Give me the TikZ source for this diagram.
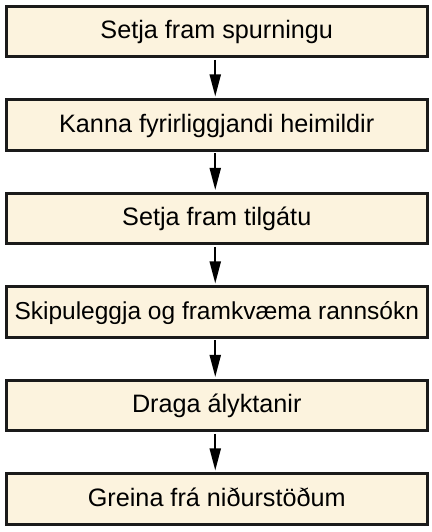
\documentclass[tikz,border=0pt]{standalone}
\usepackage{fontspec}
\setmainfont{Liberation Sans}
\usetikzlibrary{arrows.meta}
\definecolor{boxfill}{RGB}{252,243,222}
\definecolor{boxline}{RGB}{26,26,26}
\begin{document}
\begin{tikzpicture}[x=1bp,y=1bp,
  stepbox/.style={draw=boxline, line width=3bp, fill=boxfill, minimum width=420.5bp,
    minimum height=50.5bp, inner sep=0pt, text height=14.5bp, text depth=0bp,
    font=\fontsize{25.2bp}{28bp}\selectfont},
  widebox/.style={stepbox, font=\fontsize{24.5bp}{28bp}\selectfont},
  flow/.style={draw=black, line width=2bp, -{Triangle[length=22bp,width=11bp]}, shorten >=2bp, shorten <=1.5bp}]
\useasboundingbox (0,0) rectangle (431,532);
\node[stepbox] (b1) at (216.75,500.25) {Setja fram spurningu};
\node[stepbox] (b2) at (216.75,406.75) {Kanna fyrirliggjandi heimildir};
\node[stepbox] (b3) at (216.75,313.25) {Setja fram tilgátu};
\node[widebox] (b4) at (216.75,219.75) {Skipuleggja og framkvæma rannsókn};
\node[stepbox] (b5) at (216.75,126.25) {Draga ályktanir};
\node[stepbox] (b6) at (216.75,32.75) {Greina frá niðurstöðum};
\draw[flow] ([xshift=-1.5bp]b1.south) -- ([xshift=-1.5bp]b2.north);
\draw[flow] ([xshift=-1.5bp]b2.south) -- ([xshift=-1.5bp]b3.north);
\draw[flow] ([xshift=-1.5bp]b3.south) -- ([xshift=-1.5bp]b4.north);
\draw[flow] ([xshift=-1.5bp]b4.south) -- ([xshift=-1.5bp]b5.north);
\draw[flow] ([xshift=-1.5bp]b5.south) -- ([xshift=-1.5bp]b6.north);
\end{tikzpicture}
\end{document}
